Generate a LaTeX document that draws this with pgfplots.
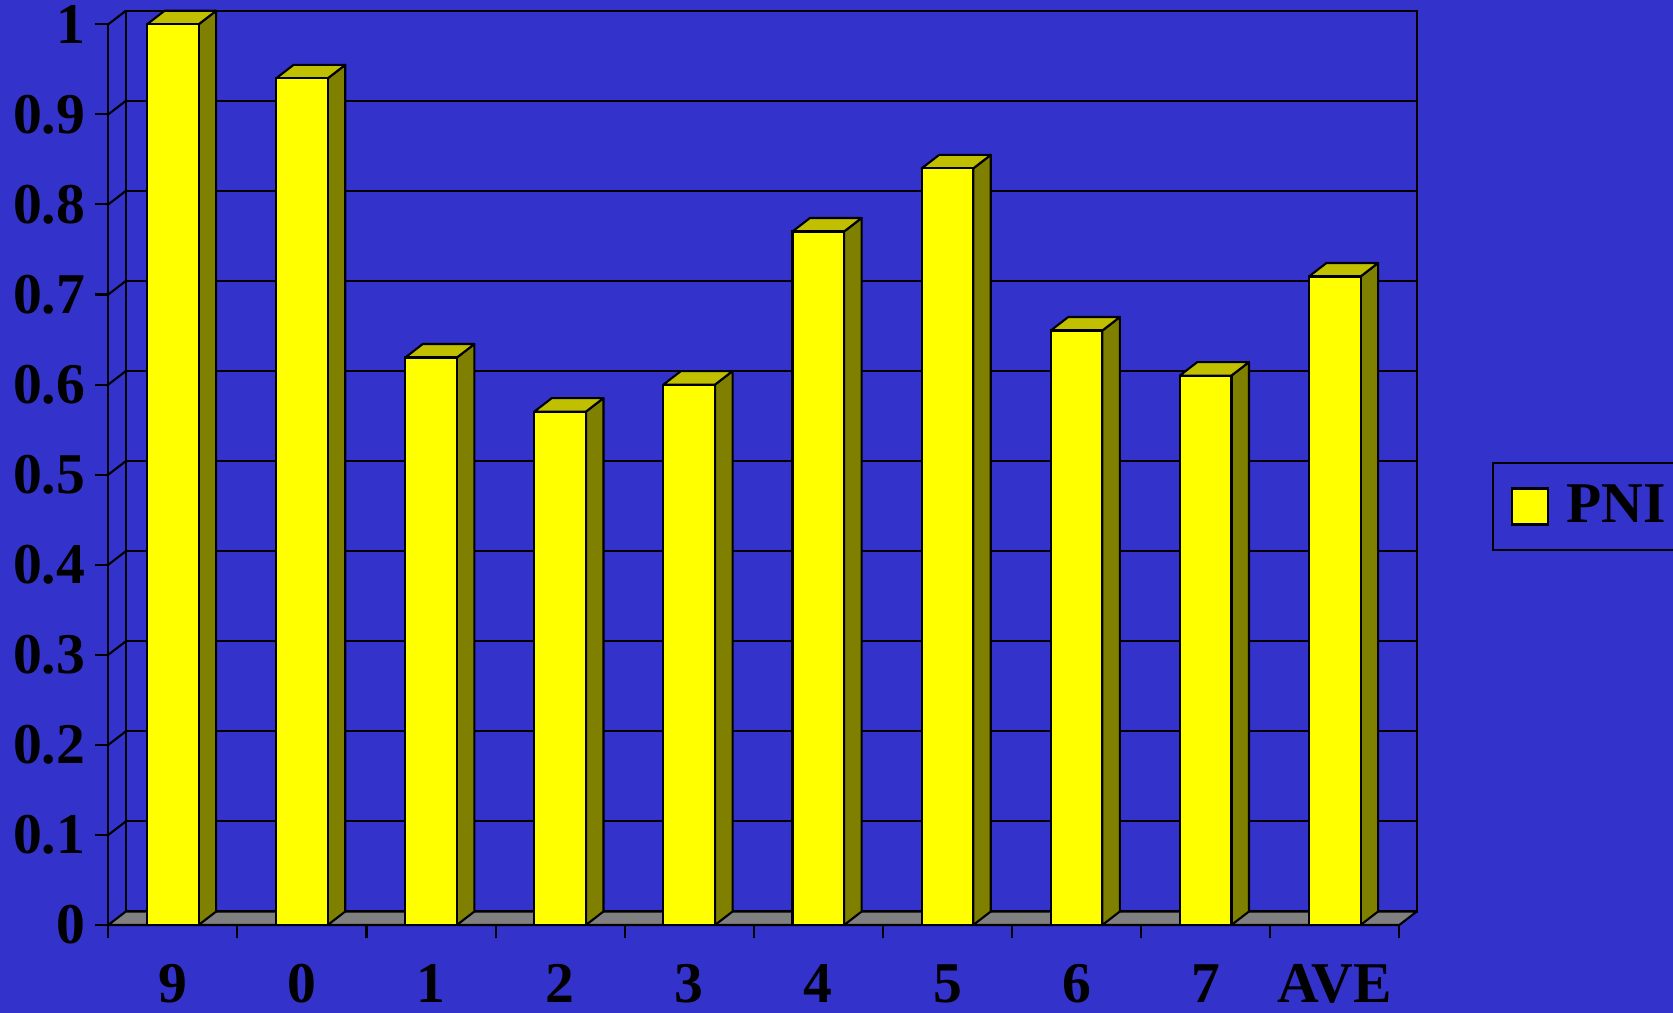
\documentclass[border=0pt]{standalone}
\usepackage{pgfplots}
\pgfplotsset{compat=1.18}
\usepackage{pgfplotstable}
\usepackage{fontspec}
\setmainfont{Liberation Serif}
\definecolor{bgblue}{RGB}{51,51,204}
\definecolor{baryellow}{RGB}{255,255,0}
\definecolor{barside}{RGB}{128,128,0}
\definecolor{bartop}{RGB}{192,192,0}
\definecolor{floorgray}{RGB}{128,128,128}

\pgfplotstableread{
x v
0 1.00
1 0.94
2 0.63
3 0.57
4 0.60
5 0.77
6 0.84
7 0.66
8 0.61
9 0.72
}\pni

\newcommand\ddx{0.13556}
\newcommand\ddy{0.014988}
\newcommand\hw{0.20}
\newcommand\lblfont{\fontsize{16.4}{19}\selectfont\bfseries}

\begin{document}
\begin{tikzpicture}
\fill[bgblue] (0,0) rectangle (167.3mm,101.3mm);
\useasboundingbox (0,0) rectangle (167.3mm,101.3mm);
% back wall
\begin{axis}[
  at={(12.58mm,10.15mm)}, anchor=south west,
  scale only axis, width=129.1mm, height=90.07mm,
  xmin=-0.5, xmax=9.5, ymin=0, ymax=1,
  xtick=\empty, ytick={0.1,0.2,0.3,0.4,0.5,0.6,0.7,0.8,0.9,1},
  yticklabels={}, major tick length=0pt,
  ymajorgrids, grid style={black, line width=0.6pt},
  axis line style={black, line width=0.6pt},
]
\end{axis}
% front
\begin{axis}[
  at={(10.83mm,8.8mm)}, anchor=south west,
  scale only axis, width=129.1mm, height=90.07mm,
  xmin=-0.5, xmax=9.5, ymin=0, ymax=1,
  clip=false,
  axis lines*=left,
  axis line style={black, line width=0.6pt},
  tick align=outside,
  major tick length=1.35mm,
  tick style={black, line width=0.6pt},
  xtick={-0.5,0.5,1.5,2.5,3.5,4.5,5.5,6.5,7.5,8.5,9.5},
  xticklabels={9,0,1,2,3,4,5,6,7,AVE,{}},
  ytick={0,0.1,0.2,0.3,0.4,0.5,0.6,0.7,0.8,0.9,1},
  yticklabels={0,0.1,0.2,0.3,0.4,0.5,0.6,0.7,0.8,0.9,1},
  tick label style={font=\lblfont, text=black},
  xticklabel style={anchor=base, inner sep=0pt, xshift=6.455mm, yshift=-6.4mm},
  yticklabel style={anchor=east, inner sep=0pt, xshift=-0.9mm},
  legend style={at={(1.0718,0.4646)}, anchor=west, draw=black, fill=none,
    line width=0.6pt, font=\lblfont, inner xsep=1.8mm, inner ysep=1.5mm,
    text=black},
]
% floor
\draw[fill=floorgray, draw=black, line width=0.6pt, line join=round]
  (axis cs:-0.5,0) -- (axis cs:9.5,0) -- ++(1.75mm,1.35mm)
  -- ([shift={(1.75mm,1.35mm)}]axis cs:-0.5,0) -- cycle;
% left wall diagonals
\pgfplotsinvokeforeach{0.1,0.2,0.3,0.4,0.5,0.6,0.7,0.8,0.9,1}{
  \draw[black, line width=0.6pt] (axis cs:-0.5,#1) -- ++(1.75mm,1.35mm);
}
% bar sides and tops
\pgfplotsinvokeforeach{0,1,2,3,4,5,6,7,8,9}{
  \pgfplotstablegetelem{#1}{v}\of\pni
  \pgfmathsetmacro\va{\pgfplotsretval}
  \pgfmathsetmacro\vb{\va+\ddy}
  \pgfmathsetmacro\xl{#1-\hw}
  \pgfmathsetmacro\xr{#1+\hw}
  \pgfmathsetmacro\xlb{#1-\hw+\ddx}
  \pgfmathsetmacro\xrb{#1+\hw+\ddx}
  \addplot[forget plot, fill=barside, draw=black, line width=0.6pt, line join=round]
    coordinates {(\xr,0) (\xr,\va) (\xrb,\vb) (\xrb,\ddy)} -- cycle;
  \addplot[forget plot, fill=bartop, draw=black, line width=0.6pt, line join=round]
    coordinates {(\xl,\va) (\xr,\va) (\xrb,\vb) (\xlb,\vb)} -- cycle;
}
% front faces
\addplot[ybar, bar width=0.4, bar shift=0pt, fill=baryellow, draw=black,
  line width=0.6pt,
  legend image code/.code={\draw[fill=baryellow, draw=black, line width=0.6pt]
    (0mm,-1.8mm) rectangle (3.6mm,1.8mm);}]
  table[x=x, y=v]{\pni};
\addlegendentry{\hspace*{1mm}PNI}
\end{axis}
\end{tikzpicture}
\end{document}
